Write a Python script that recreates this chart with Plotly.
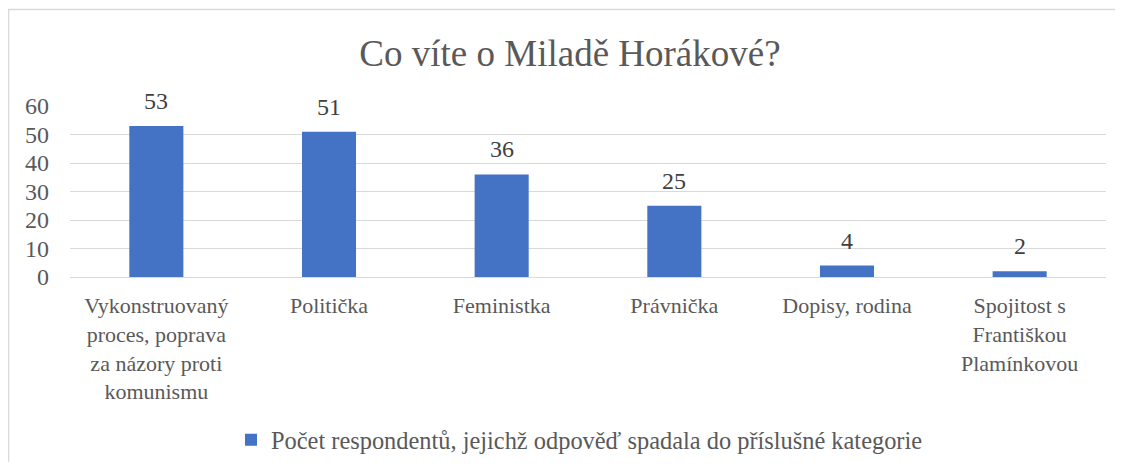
import plotly.graph_objects as go

categories = [
    "Vykonstruovaný<br>proces, poprava<br>za názory proti<br>komunismu",
    "Politička",
    "Feministka",
    "Právnička",
    "Dopisy, rodina",
    "Spojitost s<br>Františkou<br>Plamínkovou",
]
values = [53, 51, 36, 25, 4, 2]
series_name = "Počet respondentů, jejichž odpověď spadala do příslušné kategorie"
title_text = "Co víte o Miladě Horákové?"
y_ticks = [0, 10, 20, 30, 40, 50, 60]

FONT = "Liberation Serif, Times New Roman, serif"
GRAY = "#595959"

# page has an 8px body margin: figure coords = reference coords - 8,
# and the figure is kept small enough that the page never scrolls
OFF = 8
W, H = 1123 - 2 * OFF, 470 - 2 * OFF
L, T = 70 - OFF, 106 - OFF
R = W - (1106 - OFF)
B = H - (277 - OFF)
pw = W - L - R
ph = H - T - B


def px_x(px):
    return (px - OFF - L) / pw


def px_y(py):
    return (H - B - (py - OFF)) / ph


xs = list(range(len(categories)))

fig = go.Figure()
fig.add_trace(go.Bar(
    x=xs,
    y=values,
    name=series_name,
    marker=dict(color="#4472C4", line=dict(width=0)),
    showlegend=True,
))

for xi, v in zip(xs, values):
    fig.add_annotation(
        x=xi, y=v, text=str(v), showarrow=False,
        yanchor="bottom", yshift=10,
        font=dict(family=FONT, size=24, color="#404040"),
    )

fig.update_layout(
    width=W, height=H,
    margin=dict(l=L, r=R, t=T, b=B, autoexpand=False),
    paper_bgcolor="white",
    plot_bgcolor="white",
    bargap=0.687,
    font=dict(family=FONT, color=GRAY, size=24),
    title=dict(text=title_text, x=(570 - OFF) / W, xanchor="center",
               y=1 - (53 - OFF) / H, yanchor="middle",
               font=dict(family=FONT, size=37, color=GRAY)),
    xaxis=dict(
        tickmode="array",
        tickvals=xs,
        ticktext=categories,
        range=[-0.5, len(categories) - 0.5],
        showgrid=False,
        showline=True, linecolor="#d9d9d9", linewidth=1,
        ticks="",
        tickfont=dict(family=FONT, size=22, color=GRAY),
        ticklabelstandoff=9,
        automargin=False,
    ),
    yaxis=dict(
        range=[0, 60],
        tickvals=y_ticks,
        showgrid=True, gridcolor="#d9d9d9", gridwidth=1,
        zeroline=False,
        showline=False,
        ticks="",
        tickfont=dict(family=FONT, size=24, color=GRAY),
        ticklabelstandoff=20,
        automargin=False,
    ),
    legend=dict(
        orientation="h",
        x=px_x(231), xanchor="left",
        yref="container",
        y=1 - (440 - OFF) / H, yanchor="middle",
        font=dict(family=FONT, size=24.4, color=GRAY),
        itemwidth=30,
    ),
)

# chart border (light gray frame)
fig.add_shape(
    type="rect", xref="paper", yref="paper",
    x0=px_x(8.5), x1=px_x(1140),
    y0=px_y(490), y1=px_y(9.5),
    line=dict(color="#d9d9d9", width=1.5),
    fillcolor="rgba(0,0,0,0)",
    layer="below",
)

fig.write_html("out.html")
